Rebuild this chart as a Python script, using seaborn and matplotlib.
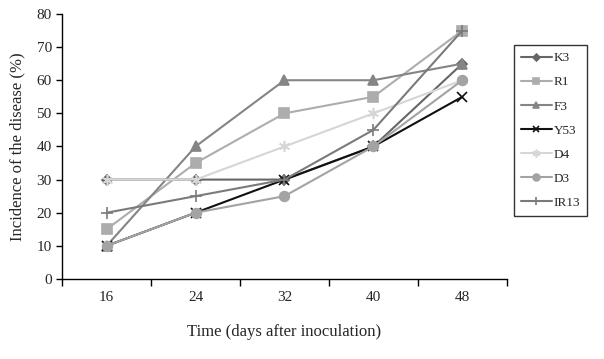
import pandas as pd
import matplotlib.pyplot as plt
import seaborn as sns

days = ["16", "24", "32", "40", "48"]
k3 = [30, 30, 30, 40, 65]
r1 = [15, 35, 50, 55, 75]
f3 = [10, 40, 60, 60, 65]
y53 = [10, 20, 30, 40, 55]
d4 = [30, 30, 40, 50, 60]
d3 = [10, 20, 25, 40, 60]
ir13 = [20, 25, 30, 45, 75]

series = {"K3": k3, "R1": r1, "F3": f3, "Y53": y53, "D4": d4, "D3": d3, "IR13": ir13}
colors = {"K3": "#666666", "R1": "#adadad", "F3": "#858585", "Y53": "#111111",
          "D4": "#d6d6d6", "D3": "#a3a3a3", "IR13": "#7a7a7a"}
markers = {"K3": "D", "R1": "s", "F3": "^", "Y53": "x", "D4": (6, 2, 0),
           "D3": "o", "IR13": "+"}
sizes = {"K3": 5, "R1": 7, "F3": 7, "Y53": 7, "D4": 8, "D3": 7, "IR13": 9}

rows = []
for name, vals in series.items():
    for i, v in enumerate(vals):
        rows.append({"pos": i, "value": v, "line": name})
df = pd.DataFrame(rows)

sns.set_style("ticks")
plt.rcParams["font.family"] = ["Liberation Serif", "DejaVu Serif"]

fig = plt.figure(figsize=(6.04, 3.59), dpi=100)
ax = fig.add_axes([0.103, 0.223, 0.736, 0.738])

for name in series:
    sub = df[df["line"] == name]
    sns.lineplot(data=sub, x="pos", y="value", ax=ax, color=colors[name],
                 marker=markers[name], markersize=sizes[name], linewidth=1.5,
                 markeredgecolor=colors[name], markeredgewidth=1.2, label=name)

ax.set_xlim(-0.5, 4.5)
ax.set_ylim(0, 80)
ax.set_yticks(range(0, 81, 10))
ax.set_xticks(range(5))
ax.set_xticklabels(days)
ax.set_xticks([x - 0.5 for x in range(6)], minor=True)
ax.tick_params(axis="x", which="major", length=0, pad=9, labelsize=11)
ax.tick_params(axis="x", which="minor", length=5, width=1, direction="out", color="black")
ax.tick_params(axis="y", length=4, width=1, direction="out", color="black", labelsize=11)
sns.despine(ax=ax)
for s in ["left", "bottom"]:
    ax.spines[s].set_color("black")
    ax.spines[s].set_linewidth(1)
ax.set_xlabel("Time (days after inoculation)", fontsize=12, labelpad=14)
ax.set_ylabel("Incidence of the disease (%)", fontsize=12, labelpad=8)

leg = ax.legend(loc="upper left", bbox_to_anchor=(0.851, 0.875), bbox_transform=fig.transFigure,
                frameon=True, fancybox=False, edgecolor="black", fontsize=9.5,
                handlelength=2.3, labelspacing=0.9, borderpad=0.55, handletextpad=0.15,
                borderaxespad=0, markerscale=0.7)
leg.get_frame().set_linewidth(1)

fig.savefig("out.png", dpi=100)
